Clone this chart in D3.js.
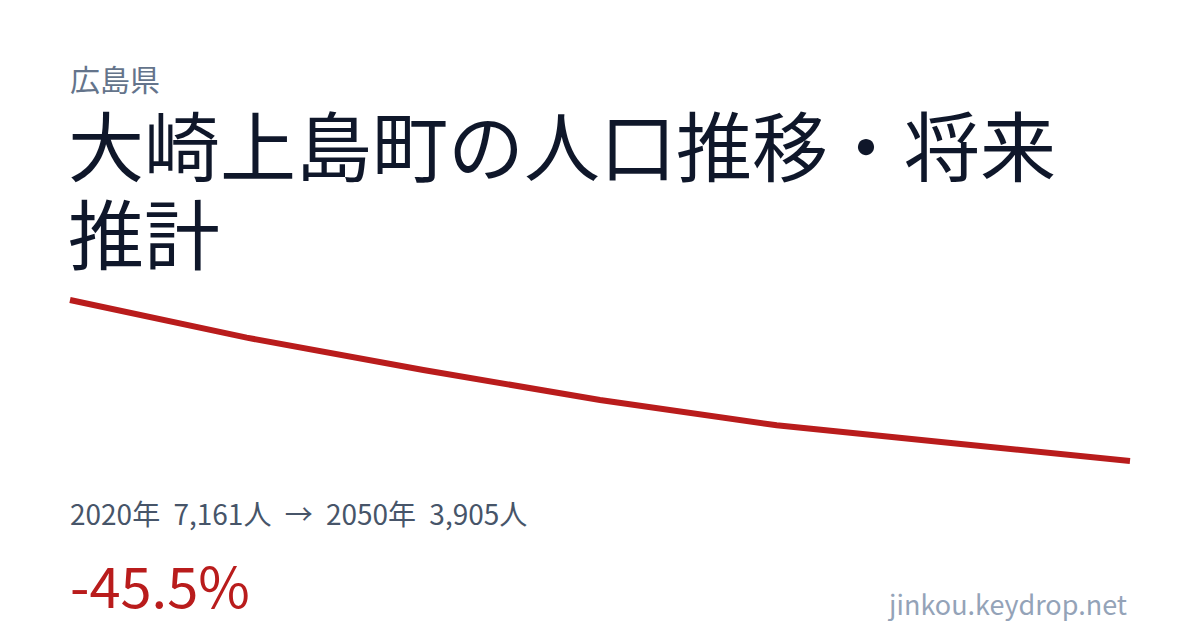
<!DOCTYPE html>
<html>
<head>
<meta charset="utf-8">
<script src="https://cdn.jsdelivr.net/npm/d3@7"></script>
<style>
  html, body { margin: 0; padding: 0; background: #fff; }
  svg text { font-family: "Noto Sans CJK JP", "Noto Sans", sans-serif; }
</style>
</head>
<body>
<div id="card"></div>
<script>
const years = [2020, 2025, 2030, 2035, 2040, 2045, 2050];
const population = [7161, 6399, 5746, 5139, 4627, 4263, 3905];
const prefecture = '広島県';
const titleLines = ['大崎上島町の人口推移・将来', '推計'];
const summary = '2020年 7,161人 → 2050年 3,905人';
const change = '-45.5%';
const site = 'jinkou.keydrop.net';

const width = 1200;
const height = 630;

const svg = d3.select('#card')
    .append('svg')
    .attr('width', width)
    .attr('height', height);

svg.append('text')
    .attr('x', 70)
    .attr('y', 91)
    .attr('fill', '#64748b')
    .style('font-size', '30px')
    .text(prefecture);

svg.selectAll('.title')
    .data(titleLines)
    .enter()
    .append('text')
    .attr('class', 'title')
    .attr('x', 68)
    .attr('y', (d, i) => 176 + i * 88)
    .attr('fill', '#0f172a')
    .style('font-size', '76px')
    .text(d => d);

const x = d3.scalePoint().domain(years).range([70, 1130]);
const y = d3.scaleLinear()
    .domain([d3.min(population), d3.max(population)])
    .range([461, 300]);

const line = d3.line()
    .x((d, i) => x(years[i]))
    .y(d => y(d));

svg.append('path')
    .datum(population)
    .attr('d', line)
    .attr('fill', 'none')
    .attr('stroke', '#b91c1c')
    .attr('stroke-width', 6);

svg.append('text')
    .attr('x', 70)
    .attr('y', 525)
    .attr('fill', '#475569')
    .style('font-size', '28px')
    .style('word-spacing', '7px')
    .text(summary);

svg.append('text')
    .attr('x', 70)
    .attr('y', 608)
    .attr('fill', '#b91c1c')
    .style('font-size', '56px')
    .text(change);

svg.append('text')
    .attr('x', 1127)
    .attr('y', 615)
    .attr('text-anchor', 'end')
    .attr('fill', '#94a3b8')
    .style('font-size', '27px')
    .text(site);
</script>
</body>
</html>
